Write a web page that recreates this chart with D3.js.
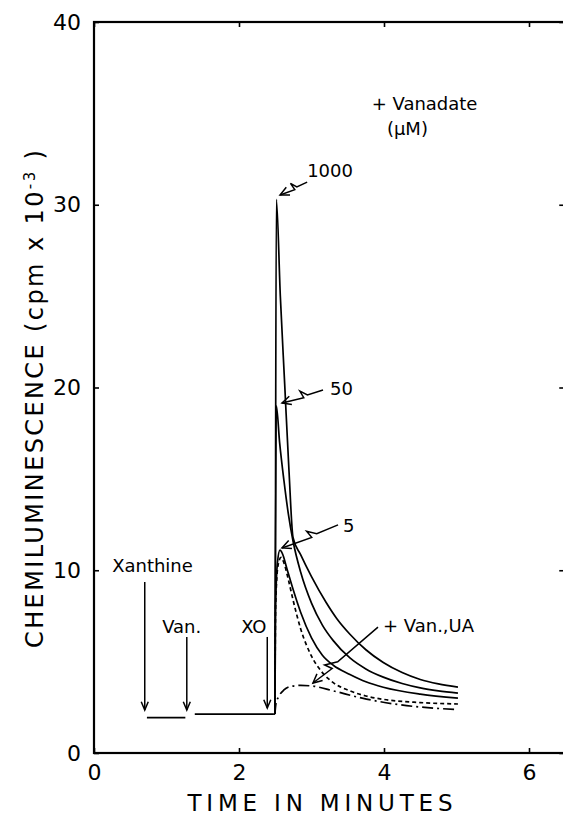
<!DOCTYPE html>
<html>
<head>
<meta charset="utf-8">
<style>
  body { margin: 0; background: #fff; }
  svg { display: block; }
  text { font-family: "DejaVu Sans", sans-serif; fill: #000; }
</style>
</head>
<body>
<div id="chart"></div>
<script src="https://cdn.jsdelivr.net/npm/d3@7/dist/d3.min.js"></script>
<script>
// values: [time (min), chemiluminescence (cpm x 10^-3)]
var baselineA = [[0.73, 1.94], [1.26, 1.94]];
var baselineB = [[1.39, 2.13], [2.47, 2.13]];
var van1000 = [[2.47, 2.13], [2.495, 2.13], [2.515, 30.3], [2.57, 25.0], [2.63, 20.2], [2.69, 15.4], [2.745, 11.8], [2.85, 10.85], [3.0, 9.65], [3.2, 8.25], [3.35, 7.35], [3.53, 6.5], [3.75, 5.65], [3.99, 4.95], [4.25, 4.4], [4.5, 4.02], [4.75, 3.78], [5.02, 3.6]];
var van50 = [[2.495, 2.13], [2.515, 19.0], [2.56, 17.0], [2.62, 14.9], [2.68, 13.1], [2.745, 11.6], [2.85, 9.9], [3.0, 8.2], [3.15, 7.0], [3.3, 6.15], [3.53, 5.2], [3.75, 4.6], [3.99, 4.15], [4.25, 3.8], [4.5, 3.56], [4.75, 3.4], [5.02, 3.28]];
var van5 = [[2.495, 2.13], [2.505, 8.0], [2.53, 10.4], [2.565, 11.1], [2.6, 10.9], [2.66, 10.1], [2.75, 8.9], [2.85, 7.7], [3.0, 6.3], [3.15, 5.35], [3.3, 4.8], [3.53, 4.3], [3.75, 3.9], [3.99, 3.6], [4.5, 3.22], [5.02, 3.0]];
var control = [[2.495, 2.13], [2.505, 8.0], [2.54, 10.3], [2.58, 10.7], [2.62, 10.4], [2.68, 9.5], [2.75, 8.3], [2.85, 6.8], [3.0, 5.3], [3.15, 4.4], [3.3, 3.85], [3.53, 3.4], [3.75, 3.12], [4.0, 2.93], [4.5, 2.76], [5.02, 2.68]];
var vanUA = [[2.495, 2.13], [2.51, 2.7], [2.55, 3.1], [2.62, 3.45], [2.72, 3.65], [2.85, 3.7], [3.0, 3.67], [3.3, 3.4], [3.7, 3.0], [4.2, 2.65], [4.6, 2.48], [5.02, 2.38]];

var xTicks = [0, 2, 4, 6];
var yTicks = [0, 10, 20, 30, 40];

// additions marked by vertical arrows
var addNames = ["Xanthine", "Van.", "XO"];
var addTimes = [0.70, 1.28, 2.39];
var addLabelAt = [[0.25, 9.9], [0.94, 6.57], [2.03, 6.57]];
var addArrowTop = [9.36, 6.35, 6.35];
var addArrowTip = [2.35, 2.35, 2.46];

// curve labels with zigzag arrows
var curveNames = ["1000", "50", "5", "+ Van.,UA"];
var curveLabelAt = [[2.94, 31.52], [3.255, 19.59], [3.434, 12.09], [3.986, 6.62]];
var curveArrowFrom = [[2.94, 31.24], [3.159, 19.86], [3.366, 12.48], [3.917, 6.89]];
var curveArrowTo = [[2.566, 30.53], [2.593, 19.15], [2.593, 11.22], [3.02, 3.83]];

var width = 563, height = 818;

var svg = d3.select("#chart").append("svg")
    .attr("width", width)
    .attr("height", height);

var x = d3.scaleLinear().domain([0, 6.5]).range([94, 565.25]);
var y = d3.scaleLinear().domain([0, 40]).range([753, 22]);

// axes, ticks pointing inward
svg.append("g")
    .attr("transform", "translate(0," + y(0) + ")")
    .call(d3.axisBottom(x).tickValues(xTicks).tickFormat(d3.format("d")).tickSizeInner(-5).tickSizeOuter(0).tickPadding(11));
svg.append("g")
    .attr("transform", "translate(0," + y(40) + ")")
    .call(d3.axisTop(x).tickValues(xTicks).tickSizeInner(-5).tickSizeOuter(0).tickFormat(""));
svg.append("g")
    .attr("transform", "translate(" + x(0) + ",0)")
    .call(d3.axisLeft(y).tickValues(yTicks).tickFormat(d3.format("d")).tickSizeInner(-5).tickSizeOuter(0).tickPadding(13));
svg.append("g")
    .attr("transform", "translate(" + x(6.5) + ",0)")
    .call(d3.axisRight(y).tickValues(yTicks).tickSizeInner(-6).tickSizeOuter(0).tickFormat(""));

svg.selectAll(".domain").remove();
svg.selectAll(".tick line").attr("stroke", "#000").attr("stroke-width", 1.6);
svg.selectAll(".tick text").style("font-size", "22px").style("font-family", "DejaVu Sans, sans-serif");

// frame
svg.append("rect")
    .attr("x", x(0))
    .attr("y", y(40))
    .attr("width", x(6.5) - x(0))
    .attr("height", y(0) - y(40))
    .attr("fill", "none")
    .attr("stroke", "#000")
    .attr("stroke-width", 2.2);

// axis titles
svg.append("text")
    .attr("x", 320)
    .attr("y", 811)
    .attr("text-anchor", "middle")
    .attr("textLength", 265)
    .attr("lengthAdjust", "spacing")
    .style("font-size", "23px")
    .text("TIME  IN  MINUTES");

var yt = svg.append("text")
    .attr("transform", "translate(43,399) rotate(-90)")
    .attr("text-anchor", "middle")
    .attr("textLength", 498)
    .attr("lengthAdjust", "spacing")
    .style("font-size", "24px");
yt.append("tspan").text("CHEMILUMINESCENCE (cpm x 10");
yt.append("tspan").attr("dy", "-0.55em").style("font-size", "15px").text("-3");
yt.append("tspan").attr("dy", "0.35em").text(" )");

// curves
var line = d3.line()
    .x(function(d) { return x(d[0]); })
    .y(function(d) { return y(d[1]); })
    .curve(d3.curveMonotoneX);

var series = [
    { data: baselineA, dash: null },
    { data: baselineB, dash: null },
    { data: van1000, dash: null },
    { data: van50, dash: null },
    { data: van5, dash: null },
    { data: control, dash: "4,3" },
    { data: vanUA, dash: "11,4,2,4" }
];

svg.selectAll("path.curve")
    .data(series)
    .enter()
    .append("path")
    .attr("class", "curve")
    .attr("d", function(d) { return line(d.data); })
    .attr("fill", "none")
    .attr("stroke", "#000")
    .attr("stroke-width", 1.7)
    .attr("stroke-dasharray", function(d) { return d.dash; });

// arrowhead helper: open V at the tip
function arrowHead(g, tx, ty, fx, fy, len, ang) {
    var a = Math.atan2(fy - ty, fx - tx);
    var p = d3.path();
    p.moveTo(tx + len * Math.cos(a + ang), ty + len * Math.sin(a + ang));
    p.lineTo(tx, ty);
    p.lineTo(tx + len * Math.cos(a - ang), ty + len * Math.sin(a - ang));
    g.append("path").attr("d", p.toString())
        .attr("fill", "none").attr("stroke", "#000").attr("stroke-width", 1.5);
}

// vertical addition arrows
addNames.forEach(function(name, i) {
    var g = svg.append("g");
    g.append("text")
        .attr("x", x(addLabelAt[i][0]))
        .attr("y", y(addLabelAt[i][1]))
        .style("font-size", "18px")
        .text(name);
    g.append("line")
        .attr("x1", x(addTimes[i])).attr("x2", x(addTimes[i]))
        .attr("y1", y(addArrowTop[i])).attr("y2", y(addArrowTip[i]))
        .attr("stroke", "#000").attr("stroke-width", 1.5);
    arrowHead(g, x(addTimes[i]), y(addArrowTip[i]), x(addTimes[i]), y(addArrowTop[i]), 9, 0.4);
});

// curve labels with zigzag arrows
curveNames.forEach(function(name, i) {
    var g = svg.append("g");
    g.append("text")
        .attr("x", x(curveLabelAt[i][0]))
        .attr("y", y(curveLabelAt[i][1]))
        .style("font-size", "18px")
        .text(name);
    var sx = x(curveArrowFrom[i][0]), sy = y(curveArrowFrom[i][1]);
    var tx = x(curveArrowTo[i][0]), ty = y(curveArrowTo[i][1]);
    var dx = tx - sx, dy = ty - sy;
    var L = Math.sqrt(dx * dx + dy * dy);
    var px = -dy / L, py = dx / L;
    var u0 = i === 3 ? 0.62 : 0.38;
    var p = d3.path();
    p.moveTo(sx, sy);
    p.lineTo(sx + dx * u0, sy + dy * u0);
    p.lineTo(sx + dx * (u0 + 0.14) + px * 6, sy + dy * (u0 + 0.14) + py * 6);
    p.lineTo(sx + dx * (u0 + 0.10) - px * 1.5, sy + dy * (u0 + 0.10) - py * 1.5);
    p.lineTo(tx, ty);
    g.append("path").attr("d", p.toString())
        .attr("fill", "none").attr("stroke", "#000").attr("stroke-width", 1.5);
    arrowHead(g, tx, ty, sx, sy, 10, 0.45);
});

// legend heading
svg.append("text")
    .attr("x", x(3.83))
    .attr("y", y(35.18))
    .style("font-size", "18px")
    .text("+ Vanadate");
svg.append("text")
    .attr("x", x(4.04))
    .attr("y", y(33.82))
    .style("font-size", "18px")
    .text("(\u03bcM)");
</script>
</body>
</html>
